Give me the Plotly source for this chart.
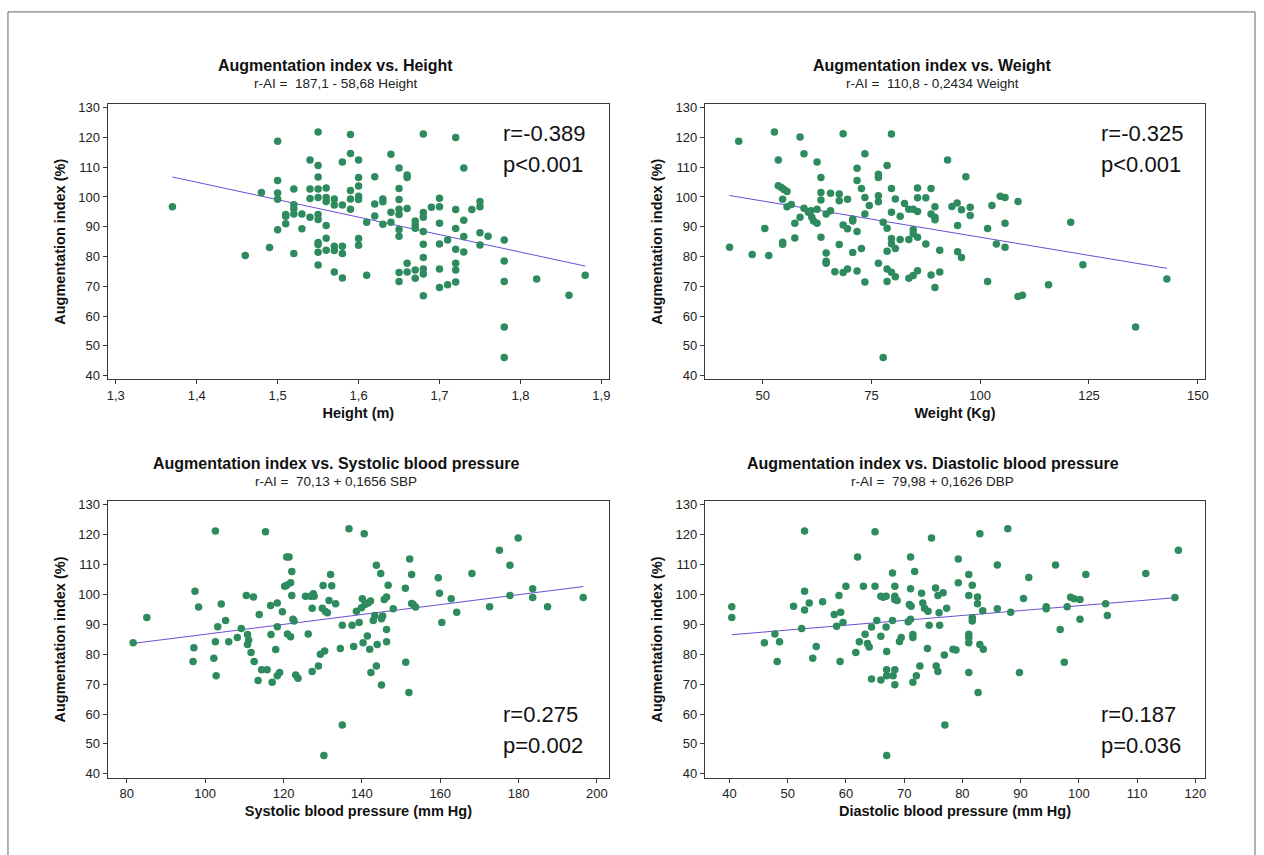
import plotly.graph_objects as go

# ---------------- data ----------------
height_m = [1.37, 1.46, 1.48, 1.49,
            1.50, 1.50, 1.50, 1.50, 1.50,
            1.51, 1.51, 1.51,
            1.52, 1.52, 1.52, 1.52, 1.52,
            1.53, 1.53,
            1.54, 1.54, 1.54, 1.54,
            1.55, 1.55, 1.55, 1.55, 1.55, 1.55, 1.55, 1.55, 1.55, 1.55, 1.55,
            1.56, 1.56, 1.56, 1.56, 1.56, 1.56,
            1.57, 1.57, 1.57, 1.57, 1.57,
            1.58, 1.58, 1.58, 1.58, 1.58,
            1.59, 1.59, 1.59, 1.59, 1.59,
            1.60, 1.60, 1.60, 1.60, 1.60, 1.60, 1.60,
            1.61, 1.61,
            1.62, 1.62, 1.62,
            1.63, 1.63, 1.63,
            1.64, 1.64, 1.64,
            1.65, 1.65, 1.65, 1.65, 1.65, 1.65, 1.65, 1.65, 1.65,
            1.66, 1.66, 1.66, 1.66, 1.66,
            1.67, 1.67, 1.67, 1.67, 1.67,
            1.68, 1.68, 1.68, 1.68, 1.68, 1.68, 1.68, 1.68, 1.68,
            1.69,
            1.70, 1.70, 1.70, 1.70, 1.70, 1.70,
            1.71, 1.71,
            1.72, 1.72, 1.72, 1.72, 1.72, 1.72, 1.72,
            1.73, 1.73, 1.73, 1.73,
            1.74,
            1.75, 1.75, 1.75, 1.75,
            1.76,
            1.78, 1.78, 1.78, 1.78, 1.78,
            1.82, 1.86, 1.88]
ai_height = [96.7, 80.3, 101.5, 83.0,
             118.7, 105.5, 101.3, 99.2, 89.0,
             94.1, 93.5, 91.0,
             102.7, 97.4, 96.0, 94.3, 81.0,
             94.3, 89.3,
             112.4, 102.7, 99.5, 93.2,
             121.8, 110.6, 106.7, 102.7, 99.8, 94.1, 92.4, 84.7, 84.0, 81.4, 77.1,
             103.0, 99.8, 98.5, 90.4, 86.1, 82.1,
             99.3, 97.3, 83.4, 82.0, 74.8,
             111.7, 97.3, 83.4, 81.0, 72.8,
             121.0, 114.6, 102.2, 99.3, 95.9,
             112.4, 106.5, 103.7, 100.2, 99.1, 86.0, 83.8,
             91.5, 73.7,
             106.8, 97.6, 93.6,
             99.3, 98.4, 90.8,
             114.3, 94.9, 91.5,
             109.7, 102.8, 99.1, 95.9, 94.1, 89.1, 86.8, 74.6, 71.6,
             107.4, 106.5, 96.1, 77.7, 74.8,
             91.9, 90.6, 89.5, 75.5, 72.7,
             121.1, 94.8, 93.2, 88.4, 84.1, 79.7, 75.8, 74.1, 66.8,
             96.5,
             99.6, 96.7, 91.2, 84.2, 75.8, 69.6,
             85.5, 70.5,
             120.0, 95.8, 89.4, 82.4, 77.7, 75.5, 71.4,
             109.7, 92.2, 86.7, 81.5,
             95.8,
             98.5, 96.7, 88.0, 83.9,
             86.8,
             85.5, 78.5, 71.6, 56.3, 46.1,
             72.4, 67.0, 73.7]

weight_kg = [42.4, 44.5, 47.6, 50.5, 51.4, 52.7, 53.6, 53.6, 54.3, 54.9, 55.6, 54.6, 54.6, 54.6,
             55.6, 56.6, 57.4, 57.4, 58.6, 58.6, 59.5, 59.5, 60.5, 61.1, 61.3, 61.7, 62.5, 62.5,
             62.5, 63.4, 63.4, 63.4, 63.4, 64.6, 64.6, 64.6, 64.6, 65.6, 65.6, 66.6, 67.6, 67.6,
             67.6, 68.5, 68.5, 68.5, 69.5, 69.5, 69.5, 70.7, 70.7, 70.7, 71.7, 71.7, 71.7, 71.7,
             72.7, 72.7, 73.5, 73.5, 73.5, 73.5, 74.5, 76.6, 76.6, 76.6, 76.6, 76.6, 77.7, 77.7,
             78.6, 78.6, 78.6, 78.6, 78.6, 79.6, 79.6, 79.6, 79.6, 79.6, 79.6, 80.5, 80.5, 80.5,
             81.6, 81.6, 82.6, 83.6, 83.6, 83.6, 84.6, 84.6, 84.6, 84.6, 85.6, 85.6, 85.6, 85.6,
             85.6, 87.5, 87.5, 88.7, 88.7, 88.7, 89.6, 89.6, 89.6, 89.6, 90.7, 90.7, 92.5, 96.7,
             93.5, 94.7, 95.7, 97.7, 97.7, 94.8, 94.8, 95.7, 101.7, 102.7, 103.7, 101.7, 104.6,
             105.7, 105.7, 105.7, 108.7, 108.7, 109.7, 115.7, 120.8, 123.6, 135.7, 142.9]
ai_weight = [83.1, 118.7, 80.7, 89.4, 80.3, 121.8, 112.4, 103.8, 103.2, 102.5, 101.8, 99.2, 84.8, 84.1,
             96.7, 97.5, 91.2, 86.2, 120.1, 93.2, 114.5, 96.2, 94.9, 95.4, 93.2, 91.9, 111.7, 91.2,
             95.9, 106.5, 101.5, 99.0, 86.5, 94.3, 81.2, 78.4, 77.7, 95.4, 101.2, 74.9, 101.0, 98.7,
             84.0, 121.2, 90.6, 74.6, 99.2, 89.3, 75.8, 92.6, 91.9, 81.3, 109.6, 105.5, 88.4, 75.1,
             102.8, 82.7, 114.5, 99.8, 94.3, 71.4, 97.1, 107.6, 106.5, 100.4, 98.4, 77.7, 46.1, 91.5,
             110.6, 89.5, 81.8, 75.8, 71.6, 121.1, 102.8, 94.9, 86.0, 84.3, 74.7, 99.3, 82.7, 73.2,
             93.5, 85.7, 97.8, 95.9, 85.7, 72.7, 95.9, 89.0, 87.6, 73.6, 103.0, 99.7, 95.1, 86.5,
             75.2, 99.7, 84.2, 102.8, 94.3, 73.8, 96.7, 93.2, 92.3, 69.6, 82.1, 74.8, 112.4, 106.8,
             96.8, 98.0, 95.7, 96.5, 93.8, 90.4, 81.6, 79.7, 89.4, 97.1, 84.2, 71.6, 100.2,
             99.8, 91.2, 83.1, 98.5, 66.6, 67.0, 70.5, 91.5, 77.2, 56.3, 72.4]

sbp = [81.6, 85.1, 96.9, 97.1, 97.4, 98.3, 102.2, 102.6, 102.6, 102.8, 103.2, 104.1, 105.2, 106.0,
       108.2, 109.2, 110.5, 110.8, 111.1, 110.8, 111.7, 112.3, 112.5, 113.5, 113.8, 114.4, 115.4,
       115.8, 116.7, 116.8, 117.1, 118.0, 118.4, 118.4, 118.4, 119.0, 119.7, 120.3, 120.8, 121.4,
       120.8, 121.0, 121.8, 121.8, 122.1, 122.1, 122.4, 122.7, 123.1, 123.7, 125.6, 126.3, 126.9,
       127.3, 127.3, 127.6, 127.8, 128.9, 129.4, 129.9, 130.3, 130.1, 130.5, 130.7, 131.2, 131.6,
       132.0, 132.3, 133.3, 134.5, 135.0, 135.0, 136.7, 137.5, 137.9, 138.6, 140.6, 139.3, 140.3,
       140.1, 139.9, 140.8, 141.6, 142.2, 141.4, 142.0, 142.3, 142.9, 143.3, 143.7, 143.9, 143.7,
       144.8, 145.0, 145.3, 145.0, 145.7, 146.3, 146.3, 146.3, 146.7, 148.0, 151.1, 151.2, 152.2,
       152.7, 152.0, 152.7, 153.1, 153.7, 159.5, 159.8, 160.4, 162.8, 164.2, 168.1, 172.6, 175.1,
       177.8, 177.8, 179.9, 183.6, 183.6, 187.4, 196.5]
ai_sbp = [83.9, 92.3, 77.6, 82.2, 101.1, 95.8, 78.7, 121.3, 84.2, 72.8, 89.2, 96.8, 91.3, 84.2,
          85.6, 88.6, 99.7, 86.6, 84.7, 83.3, 80.6, 99.2, 77.6, 71.2, 93.3, 74.8, 121.0,
          74.8, 96.3, 86.6, 70.6, 81.6, 97.2, 89.2, 72.8, 73.9, 94.2, 102.8, 112.6, 112.6,
          103.1, 86.8, 85.9, 103.9, 107.7, 99.7, 91.7, 91.1, 73.1, 72.0, 99.4, 86.8, 99.4,
          95.4, 74.2, 100.3, 99.4, 76.1, 80.0, 95.4, 46.1, 103.0, 81.1, 94.3, 93.9, 98.0,
          106.7, 102.9, 96.9, 81.9, 89.7, 56.3, 122.0, 89.7, 82.6, 94.4, 120.3, 90.6, 83.9,
          98.6, 95.6, 96.7, 97.2, 97.8, 86.1, 81.7, 73.9, 91.3, 93.0, 76.1, 83.3, 109.8,
          107.0, 91.9, 92.8, 69.7, 98.3, 99.2, 88.3, 84.2, 103.1, 95.2, 102.1, 77.3, 111.9,
          106.7, 67.2, 97.0, 96.7, 95.8, 105.6, 100.4, 90.6, 98.6, 94.1, 107.0, 95.9, 114.8,
          109.8, 99.7, 118.9, 101.9, 99.0, 95.9, 99.0]

dbp = [40.4, 40.4, 46.0, 47.8, 48.2, 48.6, 51.0, 52.4, 52.9, 52.9, 52.9, 53.7, 54.3, 54.9, 56.0,
       58.0, 58.4, 58.8, 59.1, 59.0, 59.5, 60.0, 61.7, 62.0, 62.3, 63.0, 63.3, 63.7, 64.0, 64.4,
       64.4, 65.0, 65.0, 65.3, 66.0, 66.0, 66.4, 66.9, 66.9, 67.0, 66.0, 67.0, 67.0, 67.0, 68.0,
       68.0, 68.1, 68.4, 68.4, 68.4, 68.4, 68.4, 68.8, 69.2, 69.5, 70.7, 70.9, 71.1, 71.1, 71.2,
       71.1, 71.5, 71.5, 71.5, 71.8, 72.1, 72.7, 73.0, 73.2, 73.5, 74.0, 74.1, 74.3, 74.7, 75.4,
       75.5, 75.8, 75.8, 76.0, 76.1, 76.7, 76.9, 77.0, 77.3, 78.4, 78.9, 79.3, 79.3, 81.1, 81.1,
       81.7, 81.1, 81.1, 81.1, 81.1, 81.7, 81.7, 82.6, 82.6, 83.0, 83.0, 83.6, 83.5, 82.7, 86.0,
       86.0, 87.8, 88.3, 89.8, 90.5, 91.4, 94.4, 94.4, 96.0, 96.8, 97.5, 98.0, 98.6, 99.2, 100.2,
       100.2, 101.2, 104.6, 104.9, 111.5, 116.5, 117.1]
ai_dbp = [95.9, 92.3, 83.9, 86.8, 77.6, 84.2, 96.1, 88.6, 121.3, 101.1, 94.8, 97.2, 78.7, 82.6, 97.6,
          93.3, 89.4, 99.7, 94.1, 77.6, 90.6, 102.8, 80.6, 112.6, 84.2, 102.8, 86.7, 83.6, 82.4, 89.1,
          71.7, 121.0, 102.8, 91.3, 86.0, 99.4, 99.1, 99.4, 89.1, 80.9, 71.4, 74.8, 72.8, 46.1, 107.2,
          91.3, 72.8, 102.8, 99.4, 98.3, 74.8, 69.8, 98.0, 84.3, 85.6, 90.9, 96.7, 112.6, 101.9, 96.1,
          91.7, 86.6, 85.6, 70.6, 107.7, 72.8, 76.1, 100.4, 97.2, 95.4, 81.9, 94.4, 89.7, 118.9, 102.2,
          76.1, 74.2, 99.7, 93.9, 89.7, 100.6, 79.8, 56.3, 95.4, 81.7, 81.4, 111.9, 103.9, 106.7, 99.7,
          103.1, 73.9, 86.7, 85.6, 83.9, 92.2, 91.1, 99.2, 96.9, 120.3, 83.3, 81.7, 94.6, 67.2, 109.9,
          95.2, 122.0, 94.1, 73.9, 98.7, 105.7, 95.9, 95.2, 109.9, 88.3, 77.3, 95.9, 99.1, 98.6, 98.3,
          91.7, 106.7, 96.9, 93.0, 107.0, 99.0, 114.8]

# regression coefficients (intercept, slope) as printed on the chart
fit_height = (187.1, -58.68)
fit_weight = (110.8, -0.2434)
fit_sbp = (70.13, 0.1656)
fit_dbp = (79.98, 0.1626)

titles = ["Augmentation index vs. Height", "Augmentation index vs. Weight",
          "Augmentation index vs. Systolic blood pressure", "Augmentation index vs. Diastolic blood pressure"]
subtitles = ["r-AI =&nbsp; 187,1 - 58,68 Height", "r-AI =&nbsp; 110,8 - 0,2434 Weight",
             "r-AI =&nbsp; 70,13 + 0,1656 SBP", "r-AI =&nbsp; 79,98 + 0,1626 DBP"]
x_titles = ["Height (m)", "Weight (Kg)", "Systolic blood pressure (mm Hg)", "Diastolic blood pressure (mm Hg)"]
y_title = "Augmentation index (%)"
stats_r = ["r=-0.389", "r=-0.325", "r=0.275", "r=0.187"]
stats_p = ["p<0.001", "p<0.001", "p=0.002", "p=0.036"]

height_ticks = [1.3, 1.4, 1.5, 1.6, 1.7, 1.8, 1.9]
height_ticktext = ["1,3", "1,4", "1,5", "1,6", "1,7", "1,8", "1,9"]
weight_ticks = [50, 75, 100, 125, 150]
sbp_ticks = [80, 100, 120, 140, 160, 180, 200]
dbp_ticks = [40, 50, 60, 70, 80, 90, 100, 110, 120]
ai_ticks = [40, 50, 60, 70, 80, 90, 100, 110, 120, 130]

# ---------------- layout helpers ----------------
W, H = 1264, 855
def PX(x):
    return x / W
def PY(y):
    return 1 - y / H

GREEN = "#2e8b5e"
LINE = "#6a4fd6"
FONT = "Liberation Sans, Arial, sans-serif"

panels = [
    dict(x=height_m, y=ai_height, fit=fit_height, xr=[1.290, 1.9095], box=(107, 610, 101, 379),
         tickvals=height_ticks, ticktext=height_ticktext, statpos="top"),
    dict(x=weight_kg, y=ai_weight, fit=fit_weight, xr=[36.7, 151.7], box=(706, 1208, 101, 379),
         tickvals=weight_ticks, ticktext=[str(v) for v in weight_ticks], statpos="top"),
    dict(x=sbp, y=ai_sbp, fit=fit_sbp, xr=[75.1, 203.1], box=(107, 610, 502, 781),
         tickvals=sbp_ticks, ticktext=[str(v) for v in sbp_ticks], statpos="bottom"),
    dict(x=dbp, y=ai_dbp, fit=fit_dbp, xr=[35.76, 121.7], box=(706, 1208, 502, 781),
         tickvals=dbp_ticks, ticktext=[str(v) for v in dbp_ticks], statpos="bottom"),
]

fig = go.Figure()
annotations = []
layout_axes = {}

for i, p in enumerate(panels):
    n = i + 1
    xa = "x" if n == 1 else f"x{n}"
    ya = "y" if n == 1 else f"y{n}"
    l, r, t, b = p["box"]
    x0, x1 = min(p["x"]), max(p["x"])
    a, s = p["fit"]
    fig.add_trace(go.Scatter(x=[x0, x1], y=[a + s * x0, a + s * x1], mode="lines",
                             line=dict(color=LINE, width=1), xaxis=xa, yaxis=ya,
                             showlegend=False, hoverinfo="skip"))
    fig.add_trace(go.Scatter(x=p["x"], y=p["y"], mode="markers",
                             marker=dict(color=GREEN, size=7.5, line=dict(width=0)),
                             xaxis=xa, yaxis=ya, showlegend=False))
    common = dict(showgrid=False, zeroline=False, showline=True, mirror=True,
                  linecolor="#3a3a3a", linewidth=1, ticks="outside", ticklen=4,
                  tickcolor="#3a3a3a", tickfont=dict(family=FONT, size=13, color="#222"))
    layout_axes["xaxis" if n == 1 else f"xaxis{n}"] = dict(
        domain=[PX(l), PX(r)], range=p["xr"], anchor=ya,
        tickvals=p["tickvals"], ticktext=p["ticktext"],
        title=dict(text=f"<b>{x_titles[i]}</b>", font=dict(family=FONT, size=14.5, color="#111"),
                   standoff=5),
        **common)
    layout_axes["yaxis" if n == 1 else f"yaxis{n}"] = dict(
        domain=[PY(b), PY(t)], range=[38.7, 131.2], anchor=xa,
        tickvals=ai_ticks, ticktext=[str(v) for v in ai_ticks],
        title=dict(text=f"<b>{y_title}</b>", font=dict(family=FONT, size=14.5, color="#111"),
                   standoff=9),
        **common)
    # titles
    cx = (l + r) / 2 - 22.5
    ty = 62 if t < 300 else 464
    annotations.append(dict(x=PX(cx), y=PY(ty), xref="paper", yref="paper", text=f"<b>{titles[i]}</b>",
                            showarrow=False, xanchor="center", yanchor="middle",
                            font=dict(family=FONT, size=16, color="#111")))
    annotations.append(dict(x=PX(cx), y=PY(ty + 18), xref="paper", yref="paper", text=subtitles[i],
                            showarrow=False, xanchor="center", yanchor="middle",
                            font=dict(family=FONT, size=13.5, color="#222")))
    # stats
    sx = l + 395
    if p["statpos"] == "top":
        ry, py_ = t + 30, t + 61
    else:
        ry, py_ = b - 64, b - 33
    annotations.append(dict(x=PX(sx), y=PY(ry), xref="paper", yref="paper", text=stats_r[i],
                            showarrow=False, xanchor="left", yanchor="middle",
                            font=dict(family=FONT, size=22, color="#111")))
    annotations.append(dict(x=PX(sx), y=PY(py_), xref="paper", yref="paper", text=stats_p[i],
                            showarrow=False, xanchor="left", yanchor="middle",
                            font=dict(family=FONT, size=22, color="#111")))

fig.update_layout(
    width=W, height=H,
    margin=dict(l=0, r=0, t=0, b=0),
    paper_bgcolor="white", plot_bgcolor="white",
    annotations=annotations,
    shapes=[dict(type="rect", xref="paper", yref="paper", x0=PX(7), x1=PX(1258), y0=-0.05, y1=PY(8),
                 line=dict(color="#666", width=1))],
    **layout_axes,
)

fig.write_html("out.html", config={"displayModeBar": False},
               post_script="document.body.style.margin='0';")
